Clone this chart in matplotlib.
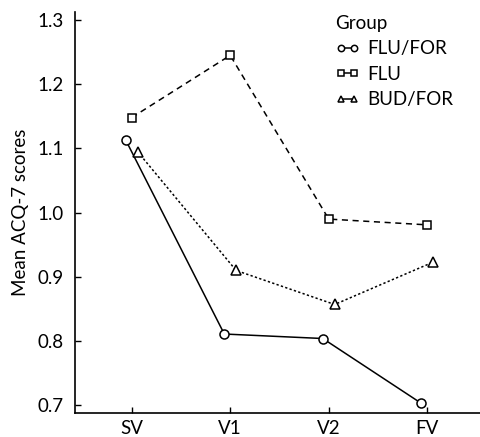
import matplotlib
matplotlib.use("Agg")
import matplotlib.pyplot as plt
import numpy as np

plt.rcParams['font.family'] = ['Lato', 'DejaVu Sans']

categories = ["SV", "V1", "V2", "FV"]
groups = ["FLU/FOR", "FLU", "BUD/FOR"]
flu_for = [1.113, 0.811, 0.804, 0.703]
flu = [1.148, 1.245, 0.990, 0.981]
bud_for = [1.095, 0.910, 0.857, 0.923]
yticks = [0.7, 0.8, 0.9, 1.0, 1.1, 1.2, 1.3]

series = [flu_for, flu, bud_for]
markers = ["o", "s", "^"]
styles = ["-", (0, (4, 3)), (0, (1.5, 1.5))]
offsets = [-0.06, 0.0, 0.06]
msizes = [6.5, 6, 7]

fig = plt.figure(figsize=(4.8, 4.37), dpi=100)
ax = fig.add_axes([75/480, 1 - 413/437, 1 - 75/480, (413 - 12)/437])

x = np.arange(len(categories))
for vals, lab, m, ls, off, ms in zip(series, groups, markers, styles, offsets, msizes):
    ax.plot(x + off, vals, linestyle=ls, color="black", linewidth=1.1,
            marker=m, markersize=ms, markerfacecolor="white",
            markeredgecolor="black", markeredgewidth=1.1, label=lab)

ax.set_xlim(-0.575, 3.535)
ax.set_ylim(0.688, 1.3125)
ax.set_xticks(x)
ax.set_xticklabels(categories)
ax.set_yticks(yticks)
ax.set_yticklabels([f"{v:.1f}" for v in yticks])
ax.tick_params(direction="in", length=4, width=1, labelsize=13.5, colors="black")
ax.tick_params(axis="y", pad=8)
ax.tick_params(axis="x", pad=5)
for s in ["top", "right"]:
    ax.spines[s].set_visible(False)
for s in ["left", "bottom"]:
    ax.spines[s].set_linewidth(1.2)
ax.set_ylabel("Mean ACQ-7 scores", fontsize=13.5, labelpad=6)

leg = ax.legend(title="Group", loc="upper left", bbox_to_anchor=(0.6, 1.035),
                frameon=False, fontsize=13.5, title_fontsize=13.5, numpoints=2,
                handlelength=1.3, handletextpad=0.45, labelspacing=0.45,
                markerscale=0.7)
leg._legend_box.align = "left"
for h in leg.legend_handles:
    h.set_linestyle("-")

fig.savefig("out.png", dpi=100)
